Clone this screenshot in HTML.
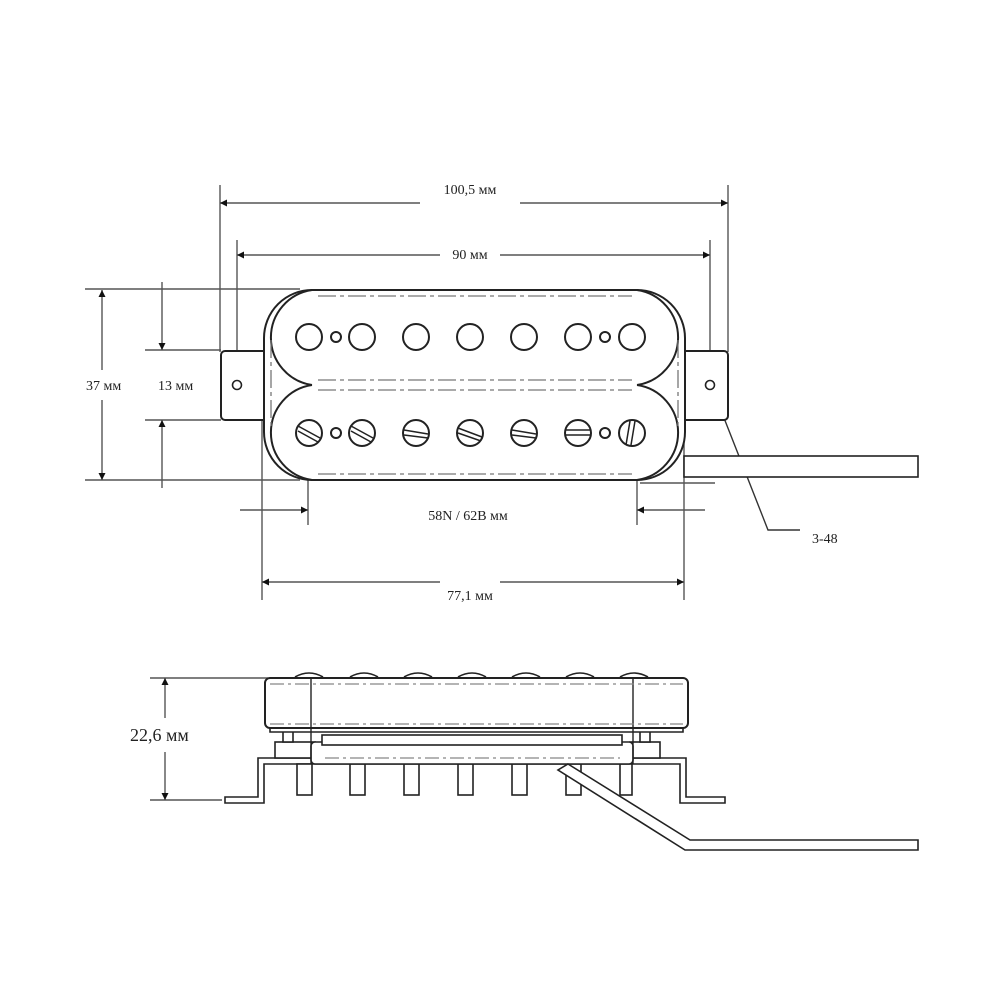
<!DOCTYPE html>
<html><head><meta charset="utf-8"><style>
html,body{margin:0;padding:0;background:#fff}
svg{display:block}
text{font-family:"Liberation Serif",serif;fill:#222}
</style></head><body>
<svg width="1000" height="1000" viewBox="0 0 1000 1000" xmlns="http://www.w3.org/2000/svg">
<defs>
<marker id="a" viewBox="0 0 10 10" refX="10" refY="5" markerWidth="16" markerHeight="7" orient="auto-start-reverse" markerUnits="userSpaceOnUse"><path d="M0,0L10,5L0,10z" fill="#111"/></marker>
</defs>
<g stroke="#555" stroke-width="1.4" fill="none">
<line x1="220" y1="185" x2="220" y2="352"/>
<line x1="728" y1="185" x2="728" y2="352"/>
<line x1="237" y1="240" x2="237" y2="385"/>
<line x1="710" y1="240" x2="710" y2="385"/>
<line x1="85" y1="289" x2="300" y2="289"/>
<line x1="85" y1="480" x2="300" y2="480"/>
<line x1="145" y1="350" x2="221" y2="350"/>
<line x1="145" y1="420" x2="221" y2="420"/>
<line x1="262" y1="420" x2="262" y2="600"/>
<line x1="684" y1="420" x2="684" y2="600"/>
<line x1="308" y1="433" x2="308" y2="525"/>
<line x1="637" y1="433" x2="637" y2="525"/>
<line x1="640" y1="483" x2="715" y2="483"/>
<line x1="220" y1="203" x2="420" y2="203" marker-start="url(#a)"/>
<line x1="520" y1="203" x2="728" y2="203" marker-end="url(#a)"/>
<line x1="237" y1="255" x2="440" y2="255" marker-start="url(#a)"/>
<line x1="500" y1="255" x2="710" y2="255" marker-end="url(#a)"/>
<line x1="102" y1="290" x2="102" y2="370" marker-start="url(#a)"/>
<line x1="102" y1="400" x2="102" y2="480" marker-end="url(#a)"/>
<line x1="162" y1="282" x2="162" y2="350" marker-end="url(#a)"/>
<line x1="162" y1="488" x2="162" y2="420" marker-end="url(#a)"/>
<line x1="240" y1="510" x2="308" y2="510" marker-end="url(#a)"/>
<line x1="705" y1="510" x2="637" y2="510" marker-end="url(#a)"/>
<line x1="262" y1="582" x2="440" y2="582" marker-start="url(#a)"/>
<line x1="500" y1="582" x2="684" y2="582" marker-end="url(#a)"/>
<line x1="150" y1="678" x2="268" y2="678"/>
<line x1="150" y1="800" x2="222" y2="800"/>
<line x1="165" y1="678" x2="165" y2="718" marker-start="url(#a)"/>
<line x1="165" y1="752" x2="165" y2="800" marker-end="url(#a)"/>
<polyline points="713,390 768,530 800,530" stroke="#333"/>
</g>
<path d="M713,390 l9,14 l-6,2z" fill="#111"/>
<g stroke="#222" stroke-width="2" fill="#fff">
<rect x="221" y="351" width="48" height="69" rx="4"/>
<rect x="678" y="351" width="50" height="69" rx="4"/>
<circle cx="237" cy="385" r="4.5" stroke-width="1.6"/>
<circle cx="710" cy="385" r="4.5" stroke-width="1.6"/>
<rect x="684" y="456" width="234" height="21" stroke-width="1.6"/>
<path d="M312,290 H637 A48,48 0 0 1 685,338 V432 A48,48 0 0 1 637,480 H312 A48,48 0 0 1 264,432 V338 A48,48 0 0 1 312,290Z"/>
<path d="M312,290 A48,48 0 0 0 312,385 M637,290 A48,48 0 0 1 637,385 M312,385 A48,48 0 0 0 312,480 M637,385 A48,48 0 0 1 637,480" fill="none"/>
</g>
<g stroke="#777" stroke-width="1.3" fill="none" stroke-dasharray="18,4,4,4">
<path d="M318,296 H632 M318,380 H632 M318,390 H632 M318,474 H632"/>
<path d="M271,340 V430 M678,340 V430"/>
</g>
<g stroke="#222" stroke-width="2" fill="none">
<circle cx="309" cy="337" r="13"/><circle cx="362" cy="337" r="13"/><circle cx="416" cy="337" r="13"/><circle cx="470" cy="337" r="13"/><circle cx="524" cy="337" r="13"/><circle cx="578" cy="337" r="13"/><circle cx="632" cy="337" r="13"/>
<circle cx="336" cy="337" r="5"/><circle cx="605" cy="337" r="5"/>
<circle cx="309" cy="433" r="13"/><circle cx="362" cy="433" r="13"/><circle cx="416" cy="433" r="13"/><circle cx="470" cy="433" r="13"/><circle cx="524" cy="433" r="13"/><circle cx="578" cy="433" r="13"/><circle cx="632" cy="433" r="13"/>
<circle cx="336" cy="433" r="5"/><circle cx="605" cy="433" r="5"/>
<g stroke-width="1.5">
<path d="M298,426 L320,438 M298,431 L318,442"/>
<path d="M351,426 L373,438 M351,431 L371,442"/>
<path d="M404,430 L428,434 M404,435 L428,438"/>
<path d="M458,428 L482,437 M458,433 L481,441"/>
<path d="M512,430 L536,434 M512,435 L536,438"/>
<path d="M566,430 L590,430 M566,435 L590,435"/>
<path d="M630,421 L626,445 M635,421 L631,445"/>
</g>
</g>
<g stroke="#222" stroke-width="1.6" fill="#fff">
<path d="M225,797 H258 V758 H686 V797 H725 V803 H680 V764 H264 V803 H225Z"/>
<rect x="297" y="764" width="15" height="31"/><rect x="350" y="764" width="15" height="31"/><rect x="404" y="764" width="15" height="31"/><rect x="458" y="764" width="15" height="31"/><rect x="512" y="764" width="15" height="31"/><rect x="566" y="764" width="15" height="31"/>
<rect x="620" y="764" width="12" height="31"/>
<rect x="275" y="742" width="40" height="16"/>
<rect x="630" y="742" width="30" height="16"/>
<rect x="283" y="728" width="10" height="14"/><rect x="640" y="728" width="10" height="14"/>
<rect x="311" y="742" width="322" height="22" rx="4"/>
<rect x="322" y="735" width="300" height="10"/>
<path d="M568,764 L690,840 H918 V850 H685 L558,770Z"/>
<path d="M270,728 H683 V732 H270Z"/>
<path d="M295,677 q14,-8 28,0 M350,677 q14,-8 28,0 M404,677 q14,-8 28,0 M458,677 q14,-8 28,0 M512,677 q14,-8 28,0 M566,677 q14,-8 28,0 M620,677 q14,-8 28,0" fill="none"/>
<rect x="265" y="678" width="423" height="50" rx="5" stroke-width="2"/>
<line x1="311" y1="678" x2="311" y2="764" stroke-width="1.4"/>
<line x1="633" y1="678" x2="633" y2="764" stroke-width="1.4"/>
</g>
<g stroke="#888" stroke-width="1.2" stroke-dasharray="14,4,3,4" fill="none">
<path d="M270,684 H683 M270,724 H683 M325,758 H620"/>
</g>
<g font-size="14">
<text x="470" y="194" text-anchor="middle">100,5 мм</text>
<text x="470" y="259" text-anchor="middle">90 мм</text>
<text x="86" y="390">37 мм</text>
<text x="158" y="390">13 мм</text>
<text x="468" y="520" text-anchor="middle">58N / 62B мм</text>
<text x="470" y="600" text-anchor="middle">77,1 мм</text>
<text x="812" y="543">3-48</text>
</g>
<text x="130" y="741" font-size="18">22,6 мм</text>
</svg>
</body></html>
